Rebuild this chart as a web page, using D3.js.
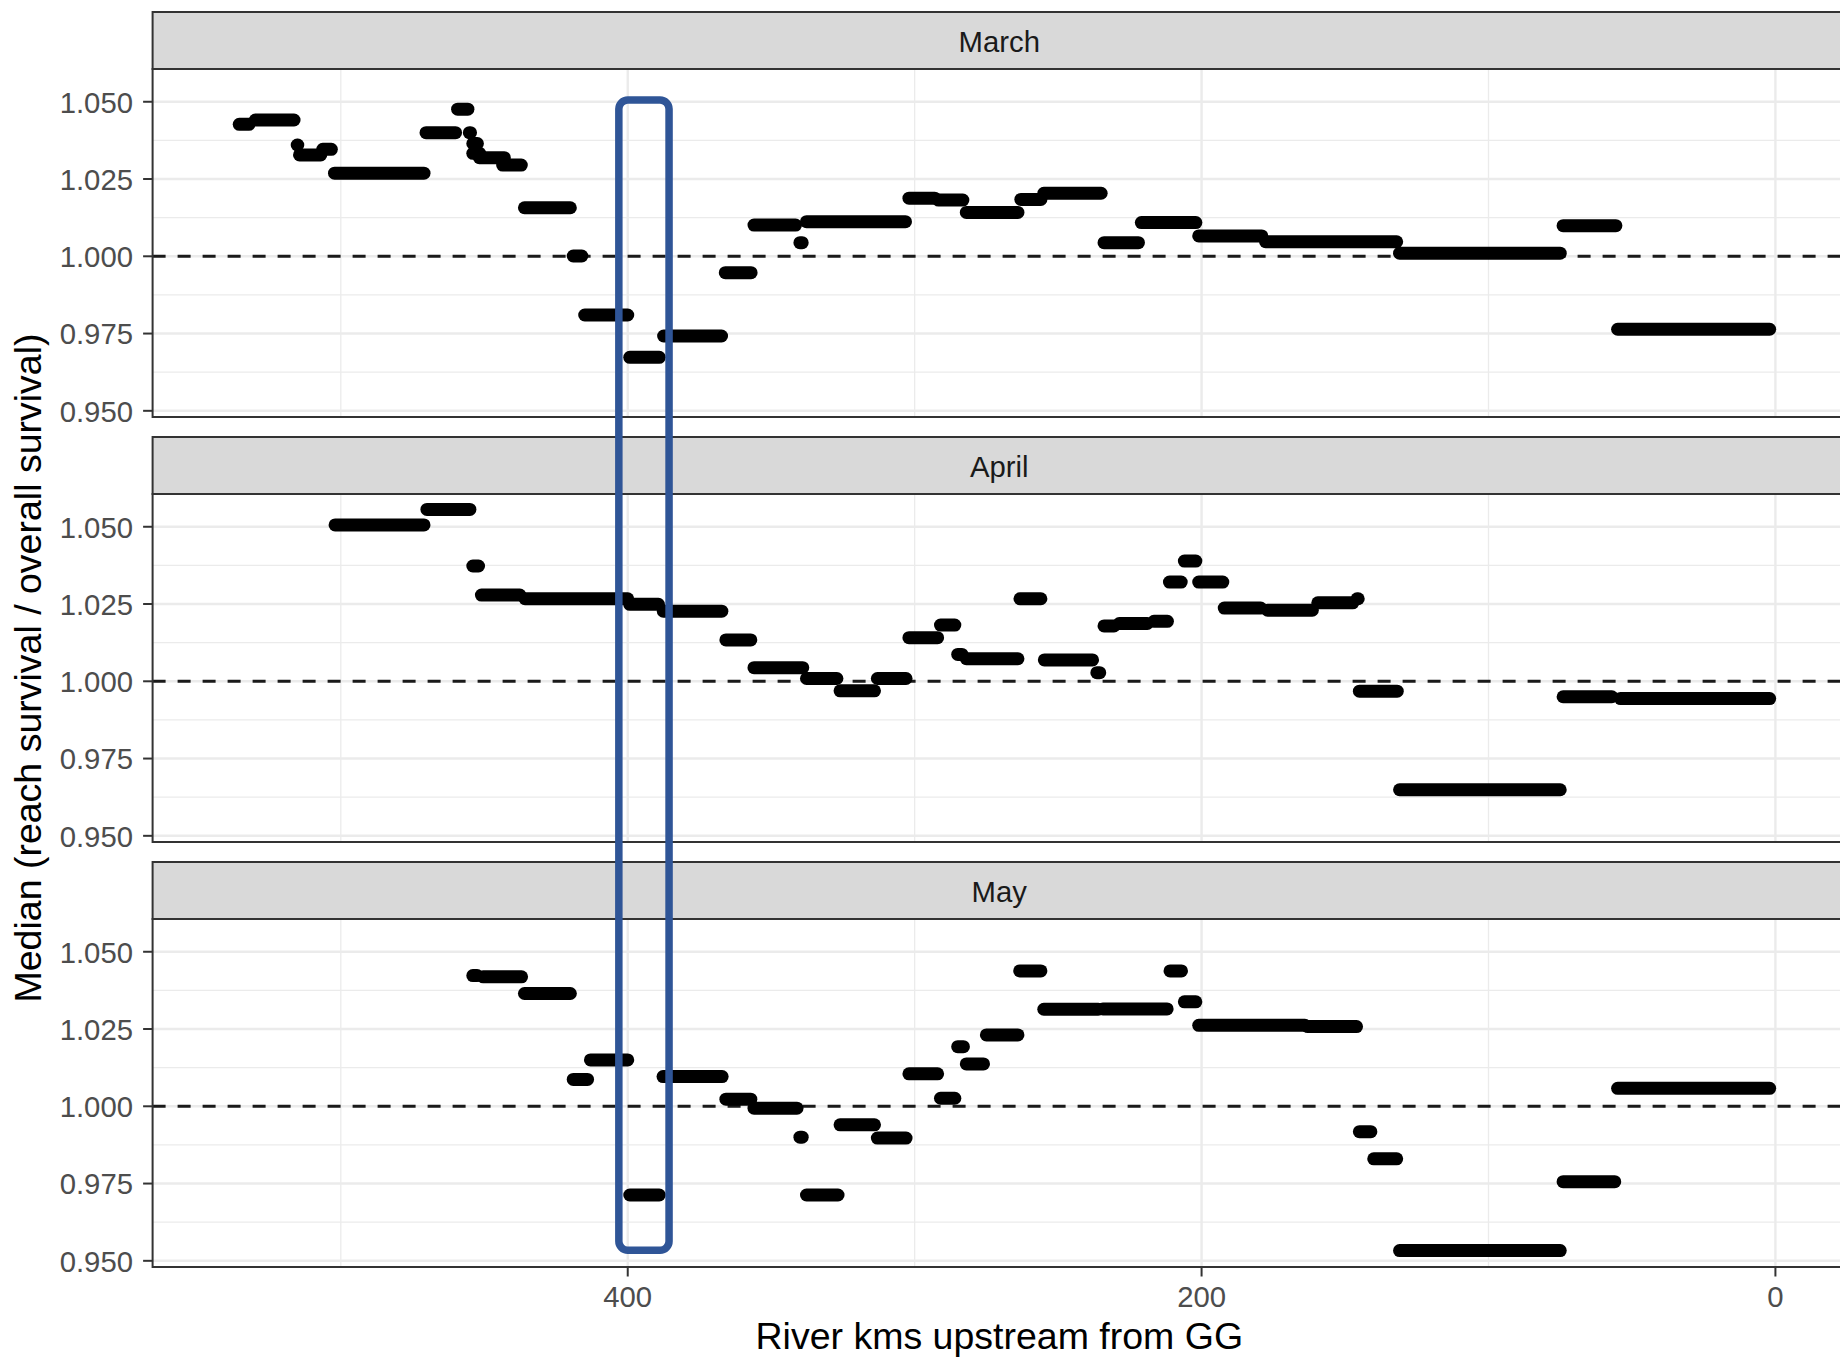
<!DOCTYPE html>
<html>
<head>
<meta charset="utf-8">
<script src="https://cdn.jsdelivr.net/npm/d3@7"></script>
<style>
  html, body { margin: 0; padding: 0; background: #ffffff; }
  svg { display: block; }
  text { font-family: "Liberation Sans", Arial, sans-serif; }
</style>
</head>
<body>
<svg id="chart" width="1840" height="1360"></svg>
<script>
// ---------------- data ----------------
const months = ["March", "April", "May"];

// [from km, to km, median (reach survival / overall survival)]
const marchSegments = [
  [535.4, 532.0, 1.0427], [529.8, 516.3, 1.0441], [515.2, 515.0, 1.0360],
  [514.4, 507.0, 1.0328], [506.3, 503.3, 1.0346], [502.2, 471.0, 1.0269],
  [470.3, 460.0, 1.0400], [459.3, 455.7, 1.0476], [455.2, 454.8, 1.0400],
  [454.0, 452.4, 1.0365], [454.0, 451.6, 1.0333], [451.7, 443.0, 1.0319],
  [443.6, 437.1, 1.0295], [436.0, 420.0, 1.0157], [419.0, 416.0, 1.0001],
  [415.0, 400.0, 0.9810], [399.3, 389.0, 0.9673], [387.5, 367.3, 0.9742],
  [366.0, 357.0, 0.9947], [356.0, 341.5, 1.0101], [340.0, 339.2, 1.0044],
  [337.7, 303.2, 1.0112], [302.0, 293.0, 1.0188], [291.7, 283.2, 1.0182],
  [282.0, 264.0, 1.0142], [263.0, 256.0, 1.0184], [255.0, 235.0, 1.0204],
  [234.0, 222.0, 1.0044], [221.0, 202.0, 1.0109], [201.0, 179.0, 1.0066],
  [177.7, 132.0, 1.0047], [131.0, 75.0, 1.0010], [74.0, 55.6, 1.0099],
  [55.0, 2.0, 0.9764]
];

const aprilSegments = [
  [502.0, 471.0, 1.0506], [470.0, 455.0, 1.0556], [454.0, 452.0, 1.0373],
  [451.0, 437.6, 1.0279], [435.8, 400.0, 1.0267], [399.3, 389.3, 1.0249],
  [387.6, 367.2, 1.0227], [365.8, 357.1, 1.0134], [356.0, 339.0, 1.0044],
  [337.7, 327.1, 1.0009], [326.0, 314.0, 0.9969], [313.0, 303.0, 1.0009],
  [302.0, 292.0, 1.0141], [291.0, 286.0, 1.0182], [285.0, 283.5, 1.0087],
  [282.0, 264.0, 1.0073], [263.3, 256.0, 1.0267], [254.8, 238.0, 1.0069],
  [236.5, 235.5, 1.0028], [234.0, 230.5, 1.0179], [228.7, 218.9, 1.0187],
  [216.6, 211.9, 1.0194], [211.2, 207.1, 1.0321], [206.0, 202.0, 1.0389],
  [201.0, 192.6, 1.0321], [192.1, 179.4, 1.0237], [177.0, 161.4, 1.0230],
  [159.5, 147.3, 1.0254], [145.8, 145.4, 1.0267], [145.0, 131.8, 0.9968],
  [131.0, 75.0, 0.9649], [74.0, 57.0, 0.9950], [54.0, 2.0, 0.9944]
];

const maySegments = [
  [454.0, 452.5, 1.0423], [450.4, 437.0, 1.0419], [436.0, 420.0, 1.0365],
  [419.0, 414.0, 1.0087], [413.0, 400.0, 1.0150], [399.3, 389.0, 0.9713],
  [387.7, 367.1, 1.0096], [365.8, 357.1, 1.0023], [356.0, 341.0, 0.9994],
  [340.0, 339.2, 0.9900], [337.7, 326.7, 0.9713], [326.0, 314.0, 0.9940],
  [313.0, 303.0, 0.9897], [302.0, 292.0, 1.0105], [291.0, 286.0, 1.0026],
  [285.0, 283.0, 1.0193], [282.0, 276.0, 1.0137], [275.0, 264.0, 1.0231],
  [263.4, 256.0, 1.0438], [255.0, 236.0, 1.0314], [234.4, 212.0, 1.0315],
  [211.0, 207.0, 1.0438], [206.0, 202.0, 1.0338], [201.0, 164.0, 1.0262],
  [163.0, 146.0, 1.0258], [145.0, 141.0, 0.9918], [140.0, 132.0, 0.9830],
  [131.0, 75.0, 0.9533], [74.0, 56.0, 0.9756], [55.0, 2.0, 1.0058]
];

const yTicks = [0.950, 0.975, 1.000, 1.025, 1.050];
const yMinorTicks = [0.9625, 0.9875, 1.0125, 1.0375];
const xTicks = [400, 200, 0];
const xMinorTicks = [500, 300, 100];
const referenceLine = 1.0;
// highlighted reach (km range, median range)
const highlightKm = [403.1, 385.6];
const highlightMedian = [1.0506, 0.9534];

const xTitle = "River kms upstream from GG";
const yTitle = "Median (reach survival / overall survival)";

// ---------------- layout ----------------
const svg = d3.select("#chart");
const panelLeft = 152.6, panelRight = 1846;
const stripTop0 = 12, stripH = 57, panelH = 348, panelStep = 425;
const grey20 = "#333333";

const x = d3.scaleLinear().domain([565.6, -24.6]).range([panelLeft, panelRight]);
const y = d3.scaleLinear().domain([0.948, 1.0606]).range([panelH, 0]);

const segData = [marchSegments, aprilSegments, maySegments];

months.forEach((m, i) => {
  const stripTop = stripTop0 + i * panelStep;
  const panelTop = stripTop + stripH;
  const g = svg.append("g").attr("transform", `translate(0,${panelTop})`);

  // background
  g.append("rect").attr("x", panelLeft).attr("y", 0)
    .attr("width", panelRight - panelLeft).attr("height", panelH).attr("fill", "#ffffff");

  // minor grid
  g.selectAll(".hminor").data(yMinorTicks).join("line")
    .attr("x1", panelLeft).attr("x2", panelRight)
    .attr("y1", d => y(d)).attr("y2", d => y(d))
    .attr("stroke", "#ebebeb").attr("stroke-width", 1.3);
  g.selectAll(".vminor").data(xMinorTicks).join("line")
    .attr("x1", d => x(d)).attr("x2", d => x(d))
    .attr("y1", 0).attr("y2", panelH)
    .attr("stroke", "#ebebeb").attr("stroke-width", 1.3);
  // major grid
  g.selectAll(".hmajor").data(yTicks).join("line")
    .attr("x1", panelLeft).attr("x2", panelRight)
    .attr("y1", d => y(d)).attr("y2", d => y(d))
    .attr("stroke", "#ebebeb").attr("stroke-width", 2.4);
  g.selectAll(".vmajor").data(xTicks).join("line")
    .attr("x1", d => x(d)).attr("x2", d => x(d))
    .attr("y1", 0).attr("y2", panelH)
    .attr("stroke", "#ebebeb").attr("stroke-width", 2.4);

  // reference line
  g.append("line")
    .attr("x1", panelLeft).attr("x2", panelRight)
    .attr("y1", y(referenceLine)).attr("y2", y(referenceLine))
    .attr("stroke", "#1a1a1a").attr("stroke-width", 3)
    .attr("stroke-dasharray", "13,12");

  // segments
  g.selectAll(".seg").data(segData[i]).join("line")
    .attr("x1", d => x(d[0])).attr("x2", d => x(d[1]))
    .attr("y1", d => y(d[2])).attr("y2", d => y(d[2]))
    .attr("stroke", "#000000").attr("stroke-width", 13)
    .attr("stroke-linecap", "round");

  // border
  g.append("rect").attr("x", panelLeft).attr("y", 0)
    .attr("width", panelRight - panelLeft).attr("height", panelH)
    .attr("fill", "none").attr("stroke", grey20).attr("stroke-width", 2);

  // y axis ticks + labels
  g.selectAll(".ytick").data(yTicks).join("line")
    .attr("x1", panelLeft - 9.5).attr("x2", panelLeft)
    .attr("y1", d => y(d)).attr("y2", d => y(d))
    .attr("stroke", grey20).attr("stroke-width", 2);
  g.selectAll(".ylab").data(yTicks).join("text")
    .attr("x", 133).attr("y", d => y(d)).attr("dy", "0.37em")
    .attr("text-anchor", "end").attr("font-size", 29.3).attr("fill", "#4d4d4d")
    .text(d => d3.format(".3f")(d));

  // strip
  svg.append("rect").attr("x", panelLeft).attr("y", stripTop)
    .attr("width", panelRight - panelLeft).attr("height", stripH)
    .attr("fill", "#d9d9d9").attr("stroke", grey20).attr("stroke-width", 2);
  svg.append("text")
    .attr("x", (panelLeft + panelRight) / 2).attr("y", stripTop + stripH / 2 + 11)
    .attr("text-anchor", "middle").attr("font-size", 29.3).attr("fill", "#1a1a1a")
    .text(m);

  // x axis on the bottom panel
  if (i === months.length - 1) {
    g.selectAll(".xtick").data(xTicks).join("line")
      .attr("x1", d => x(d)).attr("x2", d => x(d))
      .attr("y1", panelH).attr("y2", panelH + 9.5)
      .attr("stroke", grey20).attr("stroke-width", 2);
    g.selectAll(".xlab").data(xTicks).join("text")
      .attr("x", d => x(d)).attr("y", panelH + 40)
      .attr("text-anchor", "middle").attr("font-size", 29.3).attr("fill", "#4d4d4d")
      .text(d => d);
  }
});

// axis titles
svg.append("text")
  .attr("x", (panelLeft + panelRight) / 2).attr("y", 1349)
  .attr("text-anchor", "middle").attr("font-size", 37.5).attr("fill", "#000000")
  .text(xTitle);
svg.append("text")
  .attr("transform", "translate(41,668) rotate(-90)")
  .attr("text-anchor", "middle").attr("font-size", 37.5).attr("fill", "#000000")
  .text(yTitle);

// highlight box spanning all panels
const firstPanelTop = stripTop0 + stripH;
const lastPanelTop = stripTop0 + (months.length - 1) * panelStep + stripH;
const hx0 = x(highlightKm[0]), hx1 = x(highlightKm[1]);
const hy0 = firstPanelTop + y(highlightMedian[0]);
const hy1 = lastPanelTop + y(highlightMedian[1]);
svg.append("rect")
  .attr("x", hx0).attr("y", hy0)
  .attr("width", hx1 - hx0).attr("height", hy1 - hy0)
  .attr("rx", 9).attr("ry", 9)
  .attr("fill", "none").attr("stroke", "#2f5597").attr("stroke-width", 7.5);
</script>
</body>
</html>
